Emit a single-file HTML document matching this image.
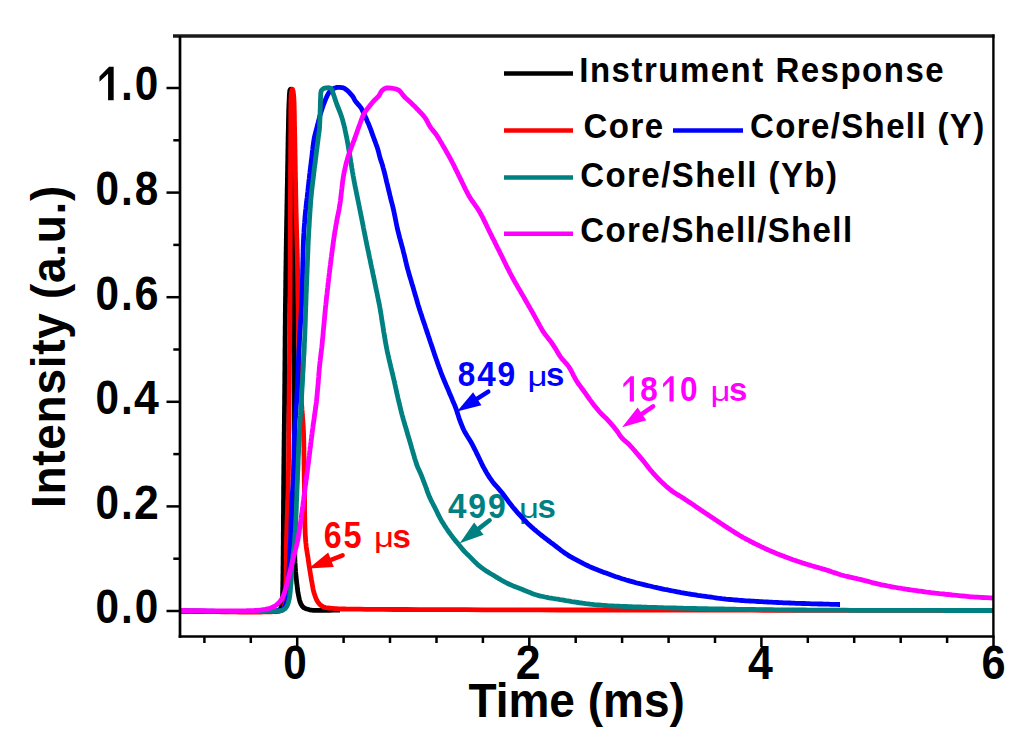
<!DOCTYPE html>
<html><head><meta charset="utf-8"><style>
html,body{margin:0;padding:0;background:#fff;width:1024px;height:754px;overflow:hidden;font-family:"Liberation Sans",sans-serif;}
svg{display:block}
</style></head><body>
<svg width="1024" height="754" viewBox="0 0 1024 754" font-family="'Liberation Sans', sans-serif">
<rect width="1024" height="754" fill="#fff"/>
<text x="0" y="0" text-anchor="middle" font-size="35" font-weight="bold" fill="#f00" transform="translate(332.73,547.60) scale(0.92,1.06)">6</text><text x="0" y="0" text-anchor="middle" font-size="35" font-weight="bold" fill="#f00" transform="translate(352.59,547.60) scale(0.93,1.06)">5</text><text x="0" y="0" fill="#f00" font-size="31" transform="translate(374.0,547.3000000000001) scale(1.12,0.9)">&#956;</text><text x="410.9" y="547.6" fill="#f00" font-size="33" font-weight="bold" text-anchor="end">s</text><text x="0" y="0" text-anchor="middle" font-size="35" font-weight="bold" fill="#008080" transform="translate(457.23,518.30) scale(0.95,1.0)">4</text><text x="0" y="0" text-anchor="middle" font-size="35" font-weight="bold" fill="#008080" transform="translate(477.09,518.30) scale(0.91,1.0)">9</text><text x="0" y="0" text-anchor="middle" font-size="35" font-weight="bold" fill="#008080" transform="translate(496.95,518.30) scale(0.91,1.0)">9</text><text x="0" y="0" fill="#008080" font-size="31" transform="translate(518.9,518.0) scale(1.12,0.9)">&#956;</text><text x="555.8" y="518.3" fill="#008080" font-size="33" font-weight="bold" text-anchor="end">s</text><text x="0" y="0" text-anchor="middle" font-size="35" font-weight="bold" fill="#00f" transform="translate(466.53,386.20) scale(0.9,1.0)">8</text><text x="0" y="0" text-anchor="middle" font-size="35" font-weight="bold" fill="#00f" transform="translate(486.39,386.20) scale(0.95,1.0)">4</text><text x="0" y="0" text-anchor="middle" font-size="35" font-weight="bold" fill="#00f" transform="translate(506.25,386.20) scale(0.91,1.0)">9</text><text x="0" y="0" fill="#00f" font-size="31" transform="translate(527.5,385.9) scale(1.12,0.9)">&#956;</text><text x="564.4" y="386.2" fill="#00f" font-size="33" font-weight="bold" text-anchor="end">s</text><polygon points="633.92,401.40 633.92,376.34 630.53,376.34 623.36,383.72 623.36,387.57 629.76,381.62 629.76,401.40" fill="#f0f"/><text x="0" y="0" text-anchor="middle" font-size="35" font-weight="bold" fill="#f0f" transform="translate(648.99,401.40) scale(0.9,1.02)">8</text><polygon points="673.64,401.40 673.64,376.34 670.25,376.34 663.08,383.72 663.08,387.57 669.48,381.62 669.48,401.40" fill="#f0f"/><text x="0" y="0" text-anchor="middle" font-size="35" font-weight="bold" fill="#f0f" transform="translate(688.71,401.40) scale(0.9,1.02)">0</text><text x="0" y="0" fill="#f0f" font-size="31" transform="translate(710.5,401.09999999999997) scale(1.12,0.9)">&#956;</text><text x="747.4" y="401.4" fill="#f0f" font-size="33" font-weight="bold" text-anchor="end">s</text>
<path d="M180.0,611.0 L180.6,611.0 L181.4,611.0 L182.5,611.0 L183.8,611.0 L185.4,611.1 L187.1,611.1 L189.1,611.1 L191.2,611.1 L193.5,611.2 L196.0,611.2 L198.6,611.2 L201.4,611.3 L204.2,611.3 L207.2,611.3 L210.2,611.4 L213.4,611.4 L216.5,611.4 L219.8,611.5 L223.1,611.5 L226.3,611.5 L229.6,611.6 L232.9,611.6 L236.2,611.6 L239.5,611.6 L242.7,611.6 L245.8,611.6 L248.9,611.6 L251.9,611.6 L254.7,611.6 L257.5,611.6 L260.1,611.6 L262.6,611.6 L265.0,611.5 L267.2,611.5 L269.2,611.4 L271.0,611.3 L272.6,611.3 L274.0,611.2 L275.1,611.1 L276.0,611.0 L278.2,610.7 L279.5,610.0 L280.7,608.3 L281.5,606.0 L281.9,604.1 L282.1,602.0 L282.3,599.7 L282.4,597.0 L282.5,595.4 L282.6,593.8 L282.6,592.1 L282.7,590.3 L282.7,588.4 L282.8,586.4 L282.8,584.3 L282.8,582.2 L282.9,579.9 L282.9,577.6 L282.9,575.2 L283.0,572.6 L283.0,570.0 L283.0,568.4 L283.0,566.7 L283.1,564.9 L283.1,563.1 L283.1,561.2 L283.1,559.3 L283.1,557.3 L283.2,555.3 L283.2,553.2 L283.2,551.1 L283.2,548.9 L283.2,546.7 L283.3,544.5 L283.3,542.2 L283.3,539.9 L283.3,537.5 L283.3,535.2 L283.3,532.8 L283.4,530.4 L283.4,528.0 L283.4,525.5 L283.4,523.1 L283.4,520.6 L283.4,518.1 L283.4,515.7 L283.5,513.2 L283.5,510.7 L283.5,508.3 L283.5,505.8 L283.5,503.4 L283.5,500.9 L283.6,498.5 L283.6,496.1 L283.6,493.7 L283.6,491.4 L283.6,489.0 L283.6,486.7 L283.7,484.4 L283.7,482.2 L283.7,480.0 L283.7,477.9 L283.7,475.9 L283.8,473.9 L283.8,471.8 L283.8,469.8 L283.8,467.8 L283.8,465.8 L283.9,463.8 L283.9,461.9 L283.9,459.9 L283.9,457.9 L284.0,455.9 L284.0,454.0 L284.0,452.0 L284.0,450.0 L284.0,448.1 L284.1,446.1 L284.1,444.2 L284.1,442.2 L284.1,440.3 L284.2,438.3 L284.2,436.3 L284.2,434.4 L284.2,432.4 L284.3,430.4 L284.3,428.5 L284.3,426.5 L284.3,424.5 L284.4,422.5 L284.4,420.5 L284.4,418.5 L284.4,416.5 L284.4,414.5 L284.5,412.4 L284.5,410.4 L284.5,408.3 L284.5,406.3 L284.6,404.2 L284.6,402.1 L284.6,400.0 L284.6,397.6 L284.6,395.2 L284.7,392.8 L284.7,390.4 L284.7,387.9 L284.7,385.4 L284.8,382.9 L284.8,380.4 L284.8,377.9 L284.8,375.4 L284.8,372.8 L284.9,370.3 L284.9,367.7 L284.9,365.1 L284.9,362.5 L285.0,359.9 L285.0,357.4 L285.0,354.8 L285.0,352.2 L285.0,349.6 L285.1,347.0 L285.1,344.4 L285.1,341.8 L285.1,339.3 L285.1,336.7 L285.2,334.1 L285.2,331.6 L285.2,329.0 L285.2,326.5 L285.3,324.0 L285.3,321.5 L285.3,319.0 L285.3,316.6 L285.3,314.1 L285.4,311.7 L285.4,309.3 L285.4,307.0 L285.4,304.6 L285.5,302.3 L285.5,300.0 L285.5,297.8 L285.6,295.7 L285.6,293.5 L285.6,291.4 L285.6,289.3 L285.7,287.2 L285.7,285.1 L285.7,283.0 L285.7,280.9 L285.8,278.8 L285.8,276.8 L285.8,274.8 L285.8,272.7 L285.9,270.7 L285.9,268.7 L285.9,266.7 L286.0,264.7 L286.0,262.7 L286.0,260.7 L286.1,258.8 L286.1,256.8 L286.1,254.8 L286.1,252.9 L286.2,251.0 L286.2,249.0 L286.2,247.1 L286.3,245.2 L286.3,243.3 L286.3,241.4 L286.3,239.4 L286.4,237.5 L286.4,235.7 L286.4,233.8 L286.5,231.9 L286.5,230.0 L286.5,227.8 L286.6,225.7 L286.6,223.6 L286.6,221.4 L286.7,219.3 L286.7,217.2 L286.8,215.1 L286.8,213.0 L286.8,211.0 L286.9,208.9 L286.9,206.8 L286.9,204.8 L287.0,202.8 L287.0,200.7 L287.1,198.7 L287.1,196.7 L287.1,194.7 L287.2,192.7 L287.2,190.7 L287.2,188.7 L287.3,186.7 L287.3,184.8 L287.4,182.8 L287.4,180.8 L287.4,178.9 L287.5,176.9 L287.5,175.0 L287.5,172.9 L287.6,170.7 L287.6,168.6 L287.6,166.4 L287.7,164.3 L287.7,162.2 L287.8,160.0 L287.8,157.9 L287.8,155.8 L287.9,153.7 L287.9,151.6 L287.9,149.6 L288.0,147.5 L288.0,145.5 L288.0,143.5 L288.1,141.5 L288.1,139.5 L288.1,137.6 L288.2,135.6 L288.2,133.7 L288.3,131.9 L288.3,130.0 L288.4,127.8 L288.4,125.6 L288.4,123.4 L288.5,121.2 L288.5,119.0 L288.6,116.8 L288.6,114.7 L288.7,112.6 L288.7,110.6 L288.8,108.6 L288.9,106.7 L288.9,104.9 L289.0,103.2 L289.1,101.5 L289.2,100.0 L289.3,97.3 L289.4,94.7 L289.6,92.4 L289.8,90.6 L290.3,89.5 L290.9,89.2 L291.5,89.3 L292.1,90.6 L292.4,93.0 L292.6,96.0 L292.7,97.3 L292.8,98.6 L292.9,100.1 L292.9,101.6 L293.0,103.3 L293.0,105.0 L293.1,106.8 L293.1,108.7 L293.1,110.7 L293.2,112.8 L293.2,115.0 L293.2,117.3 L293.2,119.7 L293.2,122.1 L293.2,124.6 L293.3,127.3 L293.3,130.0 L293.3,132.7 L293.4,135.6 L293.4,138.6 L293.4,141.7 L293.4,145.0 L293.5,148.4 L293.5,152.0 L293.5,155.6 L293.5,159.4 L293.6,163.3 L293.6,167.2 L293.6,171.3 L293.6,175.5 L293.6,179.7 L293.7,184.0 L293.7,188.4 L293.7,192.9 L293.7,197.4 L293.7,202.0 L293.7,206.6 L293.8,211.2 L293.8,215.9 L293.8,220.7 L293.8,225.4 L293.8,230.2 L293.8,235.0 L293.8,239.8 L293.8,244.6 L293.9,249.3 L293.9,254.1 L293.9,258.9 L293.9,263.6 L293.9,268.3 L293.9,273.0 L293.9,277.6 L293.9,282.2 L294.0,286.8 L294.0,291.2 L294.0,295.7 L294.0,300.0 L294.0,304.5 L294.0,309.0 L294.0,313.5 L294.1,318.1 L294.1,322.7 L294.1,327.4 L294.1,332.1 L294.1,336.8 L294.1,341.6 L294.1,346.3 L294.2,351.1 L294.2,355.9 L294.2,360.7 L294.2,365.5 L294.2,370.3 L294.2,375.1 L294.2,379.9 L294.2,384.7 L294.2,389.4 L294.3,394.2 L294.3,398.9 L294.3,403.6 L294.3,408.3 L294.3,412.9 L294.3,417.6 L294.3,422.1 L294.3,426.7 L294.3,431.1 L294.4,435.6 L294.4,439.9 L294.4,444.3 L294.4,448.5 L294.4,452.7 L294.4,456.9 L294.4,460.9 L294.4,464.9 L294.5,468.8 L294.5,472.6 L294.5,476.4 L294.5,480.0 L294.5,482.5 L294.5,484.9 L294.5,487.3 L294.5,489.8 L294.5,492.2 L294.5,494.6 L294.5,497.0 L294.5,499.4 L294.5,501.7 L294.5,504.1 L294.5,506.4 L294.5,508.7 L294.5,511.0 L294.5,513.3 L294.5,515.5 L294.5,517.7 L294.5,519.9 L294.5,522.1 L294.5,524.2 L294.5,526.3 L294.5,528.4 L294.5,530.5 L294.5,532.5 L294.5,534.5 L294.5,536.5 L294.5,538.4 L294.5,540.3 L294.5,542.2 L294.6,544.0 L294.6,545.8 L294.6,547.5 L294.6,549.2 L294.6,550.9 L294.7,552.5 L294.7,554.1 L294.8,555.6 L294.8,557.1 L294.8,558.5 L294.9,559.9 L295.0,562.7 L295.2,565.3 L295.3,567.6 L295.5,569.8 L295.6,571.9 L295.8,573.9 L296.0,575.8 L296.2,577.8 L296.4,579.8 L296.6,582.1 L296.9,584.3 L297.2,586.5 L297.4,588.7 L297.7,590.8 L298.0,592.8 L298.4,594.7 L298.9,597.2 L299.4,599.6 L300.0,601.8 L300.8,603.7 L302.1,606.0 L303.8,607.7 L305.7,608.7 L307.8,609.3 L309.6,609.8 L312.0,610.2 L313.3,610.3 L315.1,610.4 L317.2,610.4 L319.5,610.4 L322.0,610.4 L324.7,610.3 L327.3,610.3 L329.9,610.3 L332.4,610.2 L334.6,610.1 L336.6,610.1 L338.2,610.0 L339.4,610.0 L340.0,610.0" fill="none" stroke="#000" stroke-width="4.8" stroke-linejoin="round" stroke-linecap="butt"/><path d="M180.0,611.0 L180.6,611.0 L181.5,611.0 L182.6,611.0 L184.0,611.1 L185.6,611.1 L187.5,611.1 L189.5,611.2 L191.8,611.2 L194.2,611.3 L196.8,611.3 L199.5,611.4 L202.4,611.4 L205.4,611.5 L208.5,611.6 L211.7,611.6 L215.0,611.7 L218.3,611.7 L221.7,611.8 L225.2,611.8 L228.6,611.9 L232.1,611.9 L235.5,611.9 L238.9,612.0 L242.3,612.0 L245.7,612.0 L248.9,612.0 L252.1,612.0 L255.2,612.0 L258.2,612.0 L261.1,612.0 L263.8,611.9 L266.4,611.9 L268.9,611.8 L271.1,611.8 L273.1,611.7 L275.0,611.6 L276.6,611.4 L278.0,611.3 L279.1,611.2 L280.0,611.0 L281.9,610.4 L283.0,609.5 L284.1,607.2 L284.8,604.0 L285.1,602.4 L285.2,600.7 L285.4,598.9 L285.5,597.0 L285.5,594.8 L285.6,592.5 L285.7,590.0 L285.8,588.6 L285.8,587.1 L285.8,585.4 L285.9,583.8 L285.9,582.0 L286.0,580.2 L286.0,578.3 L286.0,576.4 L286.0,574.4 L286.1,572.3 L286.1,570.3 L286.1,568.1 L286.1,566.0 L286.2,563.8 L286.2,561.6 L286.2,559.5 L286.2,557.2 L286.3,555.0 L286.3,552.8 L286.3,550.6 L286.3,548.5 L286.4,546.3 L286.4,544.2 L286.5,542.1 L286.5,540.0 L286.5,538.0 L286.6,536.0 L286.7,534.1 L286.7,532.1 L286.8,530.1 L286.8,528.2 L286.9,526.2 L287.0,524.3 L287.0,522.3 L287.1,520.3 L287.2,518.4 L287.2,516.4 L287.3,514.4 L287.4,512.4 L287.5,510.4 L287.5,508.4 L287.6,506.4 L287.7,504.3 L287.7,502.3 L287.8,500.2 L287.9,498.1 L287.9,496.0 L288.0,493.8 L288.0,491.6 L288.1,489.5 L288.2,487.2 L288.2,485.0 L288.2,483.1 L288.3,481.2 L288.3,479.2 L288.3,477.3 L288.4,475.3 L288.4,473.3 L288.4,471.3 L288.5,469.3 L288.5,467.3 L288.5,465.2 L288.5,463.1 L288.6,461.1 L288.6,459.0 L288.6,456.9 L288.6,454.8 L288.7,452.7 L288.7,450.5 L288.7,448.4 L288.7,446.2 L288.7,444.1 L288.8,441.9 L288.8,439.7 L288.8,437.6 L288.8,435.4 L288.8,433.2 L288.8,431.0 L288.9,428.8 L288.9,426.6 L288.9,424.4 L288.9,422.2 L288.9,420.0 L288.9,417.7 L289.0,415.5 L289.0,413.3 L289.0,411.1 L289.0,408.9 L289.0,406.6 L289.1,404.4 L289.1,402.2 L289.1,400.0 L289.1,397.6 L289.1,395.2 L289.2,392.8 L289.2,390.3 L289.2,387.9 L289.2,385.4 L289.3,383.0 L289.3,380.5 L289.3,378.0 L289.3,375.6 L289.4,373.1 L289.4,370.6 L289.4,368.1 L289.4,365.6 L289.5,363.1 L289.5,360.6 L289.5,358.1 L289.5,355.6 L289.6,353.0 L289.6,350.5 L289.6,348.0 L289.6,345.5 L289.7,342.9 L289.7,340.4 L289.7,337.9 L289.7,335.3 L289.7,332.8 L289.8,330.3 L289.8,327.7 L289.8,325.2 L289.8,322.7 L289.9,320.1 L289.9,317.6 L289.9,315.1 L289.9,312.6 L289.9,310.0 L289.9,307.5 L290.0,305.0 L290.0,302.5 L290.0,300.0 L290.0,297.5 L290.0,295.0 L290.0,292.5 L290.1,289.9 L290.1,287.4 L290.1,284.8 L290.1,282.3 L290.1,279.7 L290.1,277.2 L290.1,274.6 L290.1,272.0 L290.2,269.4 L290.2,266.9 L290.2,264.3 L290.2,261.7 L290.2,259.1 L290.2,256.6 L290.2,254.0 L290.2,251.4 L290.2,248.9 L290.2,246.3 L290.2,243.8 L290.2,241.3 L290.3,238.7 L290.3,236.2 L290.3,233.7 L290.3,231.2 L290.3,228.7 L290.3,226.2 L290.3,223.7 L290.3,221.3 L290.3,218.9 L290.3,216.4 L290.3,214.0 L290.3,211.6 L290.4,209.3 L290.4,206.9 L290.4,204.6 L290.4,202.3 L290.4,200.0 L290.4,197.8 L290.4,195.7 L290.4,193.5 L290.4,191.3 L290.4,189.2 L290.5,187.0 L290.5,184.9 L290.5,182.7 L290.5,180.6 L290.5,178.5 L290.5,176.4 L290.5,174.3 L290.5,172.2 L290.5,170.1 L290.5,168.0 L290.5,166.0 L290.6,163.9 L290.6,161.9 L290.6,159.9 L290.6,157.9 L290.6,155.9 L290.6,153.9 L290.6,151.9 L290.6,150.0 L290.6,148.1 L290.7,146.2 L290.7,144.3 L290.7,142.4 L290.7,140.6 L290.7,138.8 L290.7,137.0 L290.7,135.2 L290.8,133.4 L290.8,131.7 L290.8,130.0 L290.8,127.7 L290.8,125.3 L290.8,122.9 L290.8,120.5 L290.8,118.1 L290.8,115.7 L290.8,113.3 L290.8,110.9 L290.8,108.7 L290.9,106.4 L290.9,104.3 L290.9,102.3 L290.9,100.4 L291.0,98.6 L291.1,96.9 L291.1,95.4 L291.2,94.1 L291.4,93.0 L291.5,92.0 L292.0,90.0 L292.5,89.2 L293.1,91.1 L293.6,95.0 L293.7,96.3 L293.8,97.7 L293.9,99.3 L294.0,101.1 L294.1,103.0 L294.1,105.0 L294.2,107.1 L294.2,109.3 L294.3,111.5 L294.3,113.8 L294.4,116.1 L294.4,118.5 L294.4,120.8 L294.5,123.2 L294.5,125.5 L294.6,127.8 L294.6,130.0 L294.6,131.9 L294.7,133.9 L294.7,135.8 L294.8,137.8 L294.8,139.8 L294.8,141.9 L294.9,143.9 L294.9,145.9 L294.9,148.0 L295.0,150.1 L295.0,152.1 L295.0,154.2 L295.1,156.3 L295.1,158.4 L295.2,160.5 L295.2,162.6 L295.2,164.7 L295.3,166.7 L295.3,168.8 L295.3,170.9 L295.4,172.9 L295.4,175.0 L295.4,177.0 L295.5,179.1 L295.5,181.2 L295.6,183.2 L295.6,185.3 L295.6,187.3 L295.7,189.4 L295.7,191.5 L295.7,193.5 L295.8,195.6 L295.8,197.7 L295.9,199.7 L295.9,201.8 L295.9,203.8 L296.0,205.9 L296.0,207.9 L296.1,210.0 L296.1,212.0 L296.2,214.0 L296.2,216.0 L296.3,218.0 L296.3,220.0 L296.4,222.1 L296.4,224.1 L296.5,226.1 L296.5,228.2 L296.6,230.2 L296.6,232.2 L296.7,234.2 L296.7,236.2 L296.8,238.2 L296.9,240.1 L296.9,242.1 L297.0,244.1 L297.0,246.1 L297.1,248.1 L297.2,250.1 L297.2,252.0 L297.3,254.0 L297.3,256.0 L297.4,258.0 L297.4,260.0 L297.4,262.0 L297.5,263.9 L297.5,265.9 L297.5,267.8 L297.6,269.7 L297.6,271.6 L297.6,273.6 L297.7,275.5 L297.7,277.4 L297.7,279.3 L297.7,281.2 L297.8,283.2 L297.8,285.2 L297.8,287.2 L297.8,289.2 L297.9,291.3 L297.9,293.4 L297.9,295.5 L298.0,297.7 L298.0,300.0 L298.0,301.7 L298.1,303.5 L298.1,305.4 L298.1,307.2 L298.2,309.1 L298.2,311.1 L298.2,313.1 L298.2,315.1 L298.3,317.1 L298.3,319.2 L298.3,321.2 L298.4,323.3 L298.4,325.4 L298.4,327.5 L298.5,329.7 L298.5,331.8 L298.6,333.9 L298.6,336.1 L298.6,338.2 L298.7,340.3 L298.7,342.5 L298.8,344.6 L298.8,346.7 L298.8,348.8 L298.9,350.9 L298.9,352.9 L299.0,354.9 L299.1,356.9 L299.1,358.9 L299.2,360.9 L299.2,362.8 L299.3,364.6 L299.4,366.5 L299.4,368.3 L299.5,370.0 L299.6,372.3 L299.7,374.5 L299.8,376.7 L299.9,378.9 L300.1,381.1 L300.2,383.3 L300.3,385.4 L300.4,387.5 L300.6,389.5 L300.7,391.6 L300.9,393.6 L301.0,395.5 L301.1,397.5 L301.3,399.4 L301.4,401.2 L301.5,403.1 L301.6,404.9 L301.8,406.6 L301.9,408.3 L302.0,410.0 L302.2,412.2 L302.3,414.3 L302.5,416.2 L302.6,418.1 L302.8,419.9 L302.9,421.7 L303.0,423.6 L303.2,425.5 L303.3,427.7 L303.4,430.0 L303.5,431.6 L303.5,433.2 L303.6,434.9 L303.6,436.7 L303.7,438.5 L303.7,440.3 L303.8,442.2 L303.8,444.2 L303.8,446.1 L303.9,448.2 L303.9,450.2 L303.9,452.3 L303.9,454.4 L304.0,456.5 L304.0,458.6 L304.0,460.7 L304.0,462.9 L304.1,465.0 L304.1,467.2 L304.1,469.3 L304.2,471.5 L304.2,473.6 L304.2,475.8 L304.3,477.9 L304.3,480.0 L304.3,481.9 L304.4,483.9 L304.4,485.9 L304.4,488.0 L304.4,490.1 L304.5,492.2 L304.5,494.3 L304.5,496.5 L304.5,498.6 L304.6,500.8 L304.6,503.0 L304.6,505.2 L304.6,507.3 L304.6,509.5 L304.7,511.7 L304.7,513.8 L304.7,516.0 L304.8,518.1 L304.8,520.1 L304.8,522.2 L304.9,524.2 L304.9,526.2 L305.0,528.1 L305.1,530.0 L305.1,531.8 L305.2,533.6 L305.3,535.3 L305.4,536.9 L305.5,538.5 L305.6,540.0 L305.8,542.5 L306.1,544.8 L306.3,547.0 L306.6,549.1 L306.9,551.1 L307.2,553.0 L307.5,554.8 L307.8,556.6 L308.1,558.3 L308.3,560.0 L308.6,562.2 L308.9,564.3 L309.2,566.2 L309.5,568.1 L309.8,570.0 L310.2,572.4 L310.6,574.8 L311.0,577.2 L311.4,579.7 L311.8,581.8 L312.2,584.1 L312.6,586.4 L313.0,588.7 L313.5,590.9 L314.1,593.0 L314.9,595.5 L315.8,598.0 L316.8,600.2 L318.0,602.2 L319.5,604.1 L321.3,605.7 L323.4,606.9 L325.3,607.6 L327.4,608.0 L329.8,608.2 L332.3,608.4 L335.0,608.6 L336.6,608.7 L338.2,608.8 L339.8,608.9 L341.4,609.0 L343.0,609.0 L344.8,609.0 L346.7,609.1 L348.8,609.1 L351.2,609.1 L353.8,609.1 L356.7,609.2 L360.0,609.2 L366.1,609.3 L373.8,609.3 L383.0,609.4 L393.7,609.5 L405.7,609.5 L419.0,609.6 L433.5,609.6 L449.0,609.7 L465.6,609.7 L483.0,609.8 L501.3,609.8 L520.3,609.9 L540.0,609.9 L560.2,610.0 L580.9,610.0 L602.0,610.0 L623.4,610.1 L644.9,610.1 L666.6,610.1 L688.3,610.2 L710.0,610.2 L731.5,610.2 L752.8,610.2 L773.8,610.3 L794.3,610.3 L814.3,610.3 L833.8,610.3 L852.6,610.4 L870.6,610.4 L887.7,610.4 L904.0,610.4 L919.2,610.4 L933.2,610.4 L946.1,610.4 L957.7,610.5 L967.8,610.5 L976.6,610.5 L983.7,610.5 L989.2,610.5 L993.0,610.5" fill="none" stroke="#f00" stroke-width="4.8" stroke-linejoin="round" stroke-linecap="butt"/><path d="M180.0,611.0 L180.6,611.0 L181.4,611.0 L182.5,611.0 L183.8,611.0 L185.3,611.0 L187.0,611.0 L189.0,611.1 L191.1,611.1 L193.4,611.1 L195.8,611.1 L198.4,611.1 L201.1,611.2 L203.9,611.2 L206.8,611.2 L209.8,611.2 L212.9,611.2 L216.0,611.3 L219.2,611.3 L222.5,611.3 L225.7,611.3 L229.0,611.3 L232.3,611.3 L235.5,611.3 L238.8,611.4 L241.9,611.4 L245.1,611.4 L248.1,611.4 L251.1,611.4 L254.0,611.4 L256.8,611.3 L259.5,611.3 L262.0,611.3 L264.4,611.3 L266.6,611.3 L268.7,611.2 L270.6,611.2 L272.3,611.2 L273.7,611.1 L275.0,611.1 L276.0,611.0 L279.0,610.8 L281.0,610.3 L282.9,609.2 L284.5,607.5 L285.5,605.7 L286.2,603.5 L286.8,601.0 L287.1,599.4 L287.3,597.6 L287.5,595.7 L287.7,593.7 L287.8,591.6 L287.9,589.4 L288.1,587.2 L288.2,585.0 L288.3,583.1 L288.4,581.1 L288.6,579.1 L288.7,577.0 L288.8,574.8 L288.9,572.7 L289.0,570.5 L289.1,568.3 L289.2,566.2 L289.3,564.1 L289.4,562.0 L289.5,560.0 L289.6,557.9 L289.7,556.0 L289.8,554.1 L289.9,552.2 L290.0,550.3 L290.1,548.4 L290.2,546.4 L290.3,544.4 L290.4,542.3 L290.5,540.0 L290.6,538.3 L290.6,536.5 L290.7,534.6 L290.8,532.6 L290.8,530.5 L290.9,528.4 L290.9,526.2 L291.0,524.1 L291.0,521.9 L291.1,519.7 L291.2,517.5 L291.2,515.3 L291.3,513.1 L291.4,511.0 L291.4,509.0 L291.5,507.0 L291.6,505.1 L291.6,503.3 L291.7,501.6 L291.8,500.0 L292.0,497.6 L292.1,495.5 L292.3,493.6 L292.5,491.7 L292.7,489.8 L292.8,487.6 L293.0,485.0 L293.1,483.5 L293.1,482.0 L293.2,480.3 L293.3,478.6 L293.3,476.7 L293.4,474.8 L293.5,472.8 L293.5,470.7 L293.6,468.6 L293.6,466.5 L293.7,464.2 L293.7,462.0 L293.8,459.8 L293.9,457.5 L293.9,455.2 L294.0,452.9 L294.0,450.6 L294.1,448.4 L294.1,446.1 L294.2,443.9 L294.3,441.8 L294.3,439.6 L294.4,437.6 L294.5,435.6 L294.5,433.6 L294.6,431.8 L294.7,430.0 L294.8,427.8 L294.9,425.6 L295.1,423.5 L295.2,421.5 L295.3,419.6 L295.5,417.7 L295.6,415.8 L295.7,414.0 L295.9,412.1 L296.0,410.2 L296.2,408.3 L296.3,406.3 L296.4,404.3 L296.6,402.2 L296.7,400.0 L296.8,398.2 L296.9,396.4 L297.0,394.6 L297.1,392.7 L297.2,390.8 L297.3,388.9 L297.4,386.9 L297.4,384.9 L297.5,382.9 L297.6,380.9 L297.7,378.9 L297.8,376.8 L297.9,374.8 L298.0,372.7 L298.1,370.6 L298.1,368.5 L298.2,366.4 L298.3,364.4 L298.4,362.3 L298.5,360.2 L298.6,358.1 L298.7,356.1 L298.8,354.0 L298.9,352.0 L299.0,350.0 L299.1,348.0 L299.2,346.0 L299.3,344.0 L299.4,342.0 L299.5,340.1 L299.7,338.1 L299.8,336.1 L299.9,334.2 L300.0,332.2 L300.1,330.2 L300.3,328.2 L300.4,326.3 L300.5,324.3 L300.6,322.3 L300.7,320.3 L300.9,318.3 L301.0,316.3 L301.1,314.3 L301.2,312.3 L301.3,310.3 L301.4,308.3 L301.5,306.2 L301.6,304.2 L301.7,302.1 L301.8,300.0 L301.9,298.1 L302.0,296.1 L302.0,294.1 L302.1,292.1 L302.2,290.0 L302.2,287.9 L302.3,285.8 L302.3,283.7 L302.4,281.6 L302.4,279.4 L302.5,277.3 L302.5,275.2 L302.6,273.0 L302.6,270.9 L302.7,268.7 L302.7,266.6 L302.8,264.5 L302.8,262.4 L302.9,260.3 L302.9,258.3 L303.0,256.3 L303.0,254.3 L303.1,252.3 L303.1,250.4 L303.2,248.6 L303.2,246.7 L303.3,245.0 L303.4,243.3 L303.4,241.6 L303.5,240.0 L303.6,237.5 L303.7,235.2 L303.9,232.9 L304.0,230.7 L304.1,228.6 L304.3,226.6 L304.4,224.6 L304.6,222.7 L304.7,220.8 L304.9,218.8 L305.0,216.9 L305.2,215.0 L305.4,212.8 L305.6,210.6 L305.9,208.5 L306.1,206.4 L306.3,204.3 L306.6,202.2 L306.8,200.2 L307.1,198.1 L307.3,196.0 L307.5,193.9 L307.8,191.8 L308.0,189.7 L308.2,187.6 L308.5,185.4 L308.7,183.3 L308.9,181.2 L309.2,179.1 L309.4,177.0 L309.6,174.9 L309.9,172.8 L310.1,170.7 L310.4,168.6 L310.7,166.4 L310.9,164.3 L311.2,162.2 L311.4,160.1 L311.7,158.0 L312.0,155.9 L312.2,153.7 L312.4,151.5 L312.7,149.3 L312.9,147.1 L313.2,145.0 L313.5,142.9 L313.8,140.9 L314.1,139.0 L314.5,136.8 L315.0,134.8 L315.5,132.8 L316.0,130.9 L316.5,129.0 L317.0,127.0 L317.5,124.9 L318.1,122.8 L318.6,120.7 L319.2,118.6 L319.7,116.5 L320.3,114.5 L320.9,112.4 L321.6,110.3 L322.3,108.3 L322.9,106.3 L323.6,104.5 L324.5,102.2 L325.3,100.0 L326.2,97.9 L327.5,95.1 L328.9,92.6 L330.1,91.2 L331.5,90.0 L333.1,88.9 L334.9,88.0 L337.1,87.4 L339.5,87.3 L342.1,87.6 L344.8,88.6 L346.3,89.7 L348.0,91.1 L349.6,92.7 L351.0,94.4 L352.3,95.9 L353.5,97.7 L354.4,99.4 L355.5,101.2 L356.7,102.7 L358.1,104.3 L359.5,105.9 L360.8,107.6 L362.0,109.6 L363.0,111.7 L364.0,113.9 L365.0,116.1 L365.9,117.9 L366.7,119.8 L367.5,121.7 L368.4,123.6 L369.2,125.6 L369.9,127.5 L370.7,129.4 L371.4,131.4 L372.1,133.4 L372.8,135.3 L373.5,137.3 L374.2,139.3 L375.0,141.2 L375.7,143.2 L376.4,145.2 L377.1,147.1 L377.7,148.9 L378.3,151.0 L378.8,153.0 L379.3,155.0 L379.8,157.0 L380.5,159.2 L381.2,161.4 L382.0,163.7 L382.8,166.5 L383.2,168.1 L383.7,169.8 L384.2,171.6 L384.7,173.6 L385.2,175.6 L385.7,177.8 L386.2,179.9 L386.7,182.1 L387.3,184.3 L387.8,186.5 L388.3,188.6 L388.8,190.6 L389.3,192.6 L389.7,194.4 L390.2,196.5 L390.7,198.6 L391.2,200.6 L391.7,202.5 L392.2,204.4 L392.7,206.3 L393.1,208.2 L393.6,210.1 L394.0,212.0 L394.4,214.0 L394.8,215.9 L395.2,217.9 L395.6,219.9 L396.0,221.9 L396.4,223.9 L396.8,225.9 L397.2,227.9 L397.7,229.9 L398.2,231.9 L398.7,233.9 L399.2,235.9 L399.7,237.9 L400.3,239.9 L400.8,241.9 L401.4,244.0 L401.9,246.0 L402.5,248.0 L403.0,250.0 L403.5,252.1 L404.1,254.3 L404.6,256.4 L405.1,258.5 L405.6,260.6 L406.1,262.8 L406.6,264.9 L407.1,267.0 L407.7,269.1 L408.3,271.2 L408.9,273.4 L409.5,275.5 L410.1,277.6 L410.8,279.7 L411.4,281.8 L412.0,284.0 L412.7,286.1 L413.3,288.2 L413.9,290.3 L414.5,292.4 L415.1,294.6 L415.8,296.7 L416.4,298.8 L417.0,300.9 L417.6,303.1 L418.2,305.2 L418.9,307.3 L419.5,309.2 L420.1,311.1 L420.7,313.0 L421.4,314.9 L422.0,316.9 L422.6,318.8 L423.3,320.7 L423.9,322.6 L424.6,324.5 L425.2,326.4 L425.8,328.3 L426.5,330.2 L427.1,332.2 L427.8,334.1 L428.4,336.0 L429.1,338.0 L429.7,339.9 L430.3,341.8 L431.0,343.6 L431.6,345.5 L432.3,347.6 L433.0,349.7 L433.7,351.8 L434.4,353.9 L435.1,356.0 L435.8,358.0 L436.5,360.0 L437.2,362.0 L437.9,364.1 L438.7,366.2 L439.4,368.2 L440.2,370.2 L440.9,372.3 L441.7,374.3 L442.5,376.4 L443.3,378.4 L444.1,380.3 L444.9,382.3 L445.8,384.3 L446.6,386.3 L447.5,388.3 L448.4,390.3 L449.2,392.3 L450.0,394.3 L450.9,396.3 L451.8,398.4 L452.6,400.4 L453.5,402.4 L454.3,404.4 L455.1,406.3 L455.8,408.2 L456.6,410.3 L457.2,412.4 L457.9,414.4 L458.5,416.4 L459.1,418.3 L459.8,420.2 L460.6,422.3 L461.4,424.4 L462.2,426.4 L463.0,428.3 L463.8,430.0 L465.0,432.3 L466.3,434.5 L467.2,436.0 L468.3,437.7 L469.4,439.5 L470.5,441.3 L471.6,443.2 L472.5,444.9 L473.4,446.6 L474.3,448.5 L475.3,450.3 L476.2,452.2 L477.1,454.1 L478.0,455.9 L478.9,457.7 L479.8,459.6 L480.6,461.4 L481.5,463.2 L482.4,465.1 L483.3,466.9 L484.3,468.7 L485.3,470.5 L486.4,472.4 L487.5,474.2 L488.7,476.1 L489.8,477.9 L491.1,479.7 L492.3,481.4 L493.6,483.1 L494.9,484.6 L496.3,486.2 L497.7,487.7 L499.1,489.3 L500.4,490.9 L501.8,492.5 L503.2,494.3 L504.6,496.1 L505.9,498.0 L507.3,499.8 L508.6,501.7 L510.0,503.5 L511.4,505.3 L512.7,507.0 L514.1,508.6 L515.5,510.2 L516.8,511.8 L518.2,513.3 L519.6,514.9 L521.0,516.4 L522.6,518.1 L524.1,519.7 L525.7,521.3 L527.2,522.9 L528.8,524.4 L530.5,526.0 L532.0,527.4 L533.6,528.8 L535.2,530.1 L536.8,531.5 L538.4,532.8 L540.0,534.2 L541.7,535.5 L543.5,536.9 L545.3,538.3 L547.1,539.6 L548.9,541.0 L550.7,542.4 L552.6,543.7 L554.4,545.1 L556.2,546.5 L557.9,547.8 L559.6,549.2 L561.4,550.6 L563.2,551.9 L565.1,553.3 L567.1,554.6 L568.7,555.6 L570.4,556.7 L572.2,557.7 L574.0,558.7 L575.9,559.7 L577.8,560.7 L579.7,561.7 L581.6,562.7 L583.5,563.7 L585.4,564.6 L587.3,565.5 L589.1,566.4 L591.0,567.2 L592.9,568.0 L594.7,568.8 L596.6,569.5 L598.5,570.3 L600.4,571.0 L602.2,571.7 L604.1,572.4 L606.0,573.1 L607.9,573.8 L609.9,574.5 L611.9,575.3 L613.9,576.0 L615.9,576.7 L617.9,577.3 L620.0,578.0 L622.0,578.7 L624.1,579.3 L626.2,580.0 L628.4,580.6 L630.2,581.1 L632.1,581.6 L634.0,582.1 L635.9,582.7 L637.8,583.2 L639.8,583.7 L641.8,584.1 L643.8,584.6 L645.8,585.1 L647.8,585.6 L649.8,586.0 L651.8,586.5 L653.7,587.0 L655.7,587.4 L657.8,587.9 L660.0,588.3 L662.1,588.8 L664.3,589.3 L666.5,589.7 L668.7,590.2 L670.8,590.6 L673.0,591.0 L675.1,591.4 L677.1,591.8 L679.1,592.2 L681.1,592.6 L683.0,592.9 L685.3,593.3 L687.4,593.7 L689.5,594.0 L691.4,594.3 L693.4,594.6 L695.5,594.9 L697.7,595.3 L700.0,595.6 L701.8,595.9 L703.6,596.1 L705.5,596.4 L707.4,596.7 L709.4,596.9 L711.4,597.2 L713.4,597.5 L715.5,597.8 L717.6,598.1 L719.7,598.3 L721.8,598.6 L723.9,598.8 L725.9,599.1 L728.0,599.3 L730.0,599.5 L732.0,599.7 L734.0,599.9 L735.9,600.0 L737.9,600.2 L739.8,600.4 L741.8,600.5 L743.7,600.6 L745.7,600.8 L747.7,600.9 L749.7,601.0 L751.7,601.1 L753.7,601.2 L755.8,601.4 L757.9,601.5 L760.0,601.6 L761.9,601.7 L763.8,601.8 L765.7,601.9 L767.6,602.0 L769.6,602.1 L771.6,602.2 L773.6,602.3 L775.6,602.4 L777.6,602.5 L779.6,602.6 L781.7,602.7 L783.7,602.8 L785.8,602.8 L787.8,602.9 L789.9,603.0 L791.9,603.1 L793.9,603.2 L796.0,603.3 L798.0,603.3 L800.0,603.4 L802.1,603.5 L804.3,603.5 L806.6,603.6 L809.0,603.7 L811.5,603.8 L814.1,603.8 L816.6,603.9 L819.1,604.0 L821.6,604.0 L824.1,604.1 L826.5,604.2 L828.7,604.2 L830.8,604.3 L832.8,604.3 L834.6,604.4 L836.2,604.4 L837.5,604.4 L838.7,604.5 L839.5,604.5 L840.0,604.5" fill="none" stroke="#00f" stroke-width="4.8" stroke-linejoin="round" stroke-linecap="butt"/><path d="M180.0,611.0 L180.6,611.0 L181.4,611.0 L182.5,611.0 L183.9,611.0 L185.4,611.0 L187.2,611.1 L189.2,611.1 L191.3,611.1 L193.6,611.1 L196.1,611.2 L198.8,611.2 L201.5,611.2 L204.4,611.3 L207.4,611.3 L210.4,611.3 L213.6,611.3 L216.8,611.4 L220.1,611.4 L223.4,611.4 L226.7,611.4 L230.1,611.5 L233.4,611.5 L236.7,611.5 L240.0,611.5 L243.3,611.5 L246.5,611.5 L249.6,611.5 L252.7,611.5 L255.6,611.5 L258.5,611.5 L261.2,611.5 L263.8,611.5 L266.2,611.4 L268.5,611.4 L270.6,611.3 L272.5,611.3 L274.2,611.2 L275.7,611.2 L277.0,611.1 L278.0,611.0 L281.0,610.7 L283.0,610.0 L284.9,608.8 L286.5,607.0 L287.5,605.0 L288.3,602.7 L289.0,600.0 L289.4,598.2 L289.7,596.3 L289.9,594.2 L290.2,592.0 L290.4,589.7 L290.6,587.4 L290.8,585.0 L291.0,583.1 L291.1,581.2 L291.3,579.1 L291.4,577.0 L291.5,574.9 L291.6,572.7 L291.8,570.5 L291.9,568.4 L292.0,566.2 L292.2,564.1 L292.3,562.0 L292.5,560.0 L292.7,558.0 L292.9,556.0 L293.1,554.1 L293.4,552.3 L293.6,550.5 L293.8,548.6 L294.1,546.7 L294.3,544.6 L294.5,542.4 L294.7,540.0 L294.8,538.4 L294.9,536.8 L295.0,535.1 L295.1,533.3 L295.3,531.5 L295.4,529.6 L295.5,527.7 L295.6,525.7 L295.6,523.7 L295.7,521.6 L295.8,519.5 L295.9,517.4 L296.0,515.3 L296.1,513.1 L296.2,510.9 L296.3,508.8 L296.4,506.6 L296.4,504.3 L296.5,502.1 L296.6,499.9 L296.7,497.7 L296.8,495.6 L296.9,493.4 L296.9,491.3 L297.0,489.1 L297.1,487.1 L297.2,485.0 L297.3,483.0 L297.4,480.9 L297.5,478.8 L297.5,476.7 L297.6,474.6 L297.7,472.5 L297.8,470.3 L297.9,468.2 L298.0,466.1 L298.1,463.9 L298.1,461.8 L298.2,459.6 L298.3,457.5 L298.4,455.4 L298.5,453.3 L298.6,451.2 L298.6,449.2 L298.7,447.1 L298.8,445.1 L298.9,443.1 L299.0,441.1 L299.1,439.2 L299.1,437.3 L299.2,435.4 L299.3,433.5 L299.4,431.8 L299.5,430.0 L299.6,427.8 L299.7,425.6 L299.9,423.6 L300.0,421.6 L300.1,419.7 L300.2,417.8 L300.4,416.0 L300.5,414.2 L300.6,412.3 L300.7,410.4 L300.9,408.5 L301.0,406.5 L301.1,404.4 L301.3,402.3 L301.4,400.0 L301.5,398.3 L301.6,396.6 L301.7,394.8 L301.8,392.9 L301.9,391.1 L302.0,389.1 L302.1,387.2 L302.3,385.2 L302.4,383.1 L302.5,381.1 L302.6,379.0 L302.7,376.9 L302.8,374.8 L302.9,372.7 L303.1,370.5 L303.2,368.4 L303.3,366.3 L303.4,364.1 L303.5,362.0 L303.6,359.9 L303.7,357.8 L303.8,355.7 L304.0,353.6 L304.1,351.6 L304.2,349.5 L304.3,347.6 L304.3,345.6 L304.4,343.7 L304.5,341.8 L304.6,340.0 L304.7,337.8 L304.8,335.7 L304.9,333.6 L304.9,331.5 L305.0,329.4 L305.1,327.4 L305.2,325.4 L305.2,323.4 L305.3,321.5 L305.4,319.5 L305.4,317.6 L305.5,315.6 L305.5,313.7 L305.6,311.7 L305.7,309.8 L305.7,307.9 L305.8,305.9 L305.9,304.0 L305.9,302.0 L306.0,300.0 L306.1,298.0 L306.1,296.0 L306.2,293.9 L306.3,291.9 L306.4,289.8 L306.4,287.7 L306.5,285.6 L306.6,283.6 L306.7,281.5 L306.8,279.4 L306.8,277.4 L306.9,275.3 L307.0,273.3 L307.1,271.3 L307.1,269.3 L307.2,267.4 L307.3,265.5 L307.4,263.6 L307.4,261.8 L307.5,260.0 L307.6,257.7 L307.7,255.5 L307.8,253.3 L307.9,251.1 L308.0,249.0 L308.0,247.0 L308.1,244.9 L308.2,242.9 L308.3,240.9 L308.4,238.9 L308.5,237.0 L308.6,235.0 L308.7,232.9 L308.8,230.8 L308.9,228.8 L309.1,226.8 L309.2,224.8 L309.3,222.9 L309.4,220.9 L309.5,218.9 L309.7,217.0 L309.8,215.0 L309.9,212.9 L310.1,210.7 L310.2,208.6 L310.4,206.5 L310.5,204.4 L310.7,202.3 L310.8,200.2 L311.0,198.1 L311.2,196.0 L311.4,193.9 L311.6,191.8 L311.8,189.8 L312.1,187.7 L312.3,185.6 L312.6,183.5 L312.8,181.5 L313.1,179.4 L313.3,177.3 L313.6,175.2 L313.8,173.1 L314.1,170.9 L314.3,168.8 L314.6,166.7 L314.9,164.6 L315.2,162.4 L315.4,160.3 L315.7,158.2 L316.0,156.0 L316.2,153.9 L316.5,151.6 L316.8,149.4 L317.1,147.2 L317.3,145.1 L317.6,143.0 L317.9,141.0 L318.1,139.1 L318.4,136.7 L318.7,134.6 L319.0,132.5 L319.3,130.3 L319.5,128.0 L319.6,126.2 L319.7,124.2 L319.8,122.2 L319.9,120.1 L320.0,118.0 L320.0,115.9 L320.1,113.9 L320.1,111.9 L320.2,110.0 L320.3,107.7 L320.3,105.3 L320.4,103.1 L320.4,100.9 L320.5,98.9 L320.6,97.0 L320.7,94.5 L320.9,92.3 L321.4,90.5 L322.5,89.2 L324.0,88.3 L326.2,87.8 L328.9,87.7 L331.0,88.3 L332.1,89.9 L332.8,92.2 L333.5,94.6 L334.2,96.4 L334.8,98.4 L335.5,100.4 L336.2,102.5 L336.9,104.5 L337.7,106.5 L338.5,108.5 L339.3,110.5 L340.1,112.5 L340.8,114.5 L341.5,116.5 L342.1,118.4 L342.7,120.3 L343.2,122.4 L343.8,124.5 L344.3,126.5 L344.8,128.5 L345.2,130.7 L345.7,132.9 L346.1,135.1 L346.6,137.2 L347.0,139.4 L347.4,141.5 L347.8,143.5 L348.1,145.5 L348.5,147.6 L348.8,149.7 L349.2,151.9 L349.6,154.2 L349.9,156.0 L350.2,157.8 L350.5,159.7 L350.8,161.7 L351.2,163.8 L351.5,165.8 L351.8,167.9 L352.2,170.0 L352.5,172.1 L352.9,174.1 L353.2,176.1 L353.6,178.1 L353.9,180.0 L354.3,182.1 L354.7,184.1 L355.1,186.2 L355.5,188.2 L355.9,190.1 L356.3,192.1 L356.7,194.0 L357.1,196.0 L357.5,197.9 L357.9,199.9 L358.3,201.9 L358.7,203.9 L359.1,205.9 L359.5,207.9 L359.9,209.9 L360.3,211.8 L360.7,213.8 L361.1,215.8 L361.5,217.8 L361.9,219.8 L362.3,221.8 L362.7,223.7 L363.1,225.7 L363.4,227.6 L363.8,229.6 L364.2,231.5 L364.6,233.5 L365.0,235.5 L365.4,237.5 L365.8,239.6 L366.2,241.5 L366.6,243.5 L367.0,245.4 L367.4,247.4 L367.8,249.4 L368.3,251.4 L368.7,253.4 L369.1,255.5 L369.5,257.5 L370.0,259.5 L370.4,261.5 L370.8,263.5 L371.2,265.5 L371.6,267.5 L372.1,269.5 L372.5,271.5 L372.9,273.6 L373.3,275.6 L373.8,277.6 L374.2,279.6 L374.6,281.6 L375.0,283.5 L375.4,285.5 L375.8,287.4 L376.2,289.5 L376.7,291.5 L377.1,293.6 L377.5,295.6 L377.9,297.6 L378.3,299.6 L378.7,301.5 L379.1,303.4 L379.5,305.3 L379.8,307.2 L380.2,309.4 L380.5,311.5 L380.9,313.5 L381.2,315.5 L381.5,317.5 L381.8,319.7 L382.2,322.0 L382.5,323.8 L382.8,325.6 L383.1,327.6 L383.4,329.6 L383.7,331.6 L384.1,333.7 L384.4,335.8 L384.8,337.9 L385.1,340.0 L385.5,342.2 L385.9,344.3 L386.3,346.5 L386.7,348.6 L387.1,350.6 L387.5,352.6 L388.0,354.7 L388.5,356.7 L388.9,358.8 L389.4,360.9 L389.9,363.0 L390.4,365.1 L390.9,367.2 L391.4,369.3 L391.9,371.4 L392.4,373.4 L392.9,375.5 L393.4,377.6 L393.9,379.7 L394.4,381.8 L394.8,383.8 L395.3,385.9 L395.7,387.9 L396.2,390.0 L396.6,392.1 L397.1,394.1 L397.6,396.2 L398.0,398.2 L398.5,400.3 L399.0,402.4 L399.5,404.4 L400.0,406.5 L400.5,408.6 L401.0,410.7 L401.5,412.7 L402.0,414.6 L402.6,416.6 L403.1,418.6 L403.7,420.7 L404.3,422.7 L404.9,424.8 L405.5,426.8 L406.1,428.8 L406.7,430.8 L407.3,432.8 L407.8,434.8 L408.4,436.7 L409.0,438.6 L409.5,440.5 L410.1,442.3 L410.6,444.1 L411.2,446.2 L411.8,448.4 L412.4,450.4 L413.0,452.5 L413.6,454.5 L414.2,456.4 L414.7,458.4 L415.3,460.2 L415.9,462.0 L416.4,463.7 L417.0,465.3 L417.9,467.7 L418.9,469.8 L419.8,471.8 L420.7,473.8 L421.6,475.9 L422.4,478.0 L423.2,480.1 L424.0,482.3 L424.8,484.4 L425.6,486.5 L426.4,488.6 L427.1,490.8 L427.9,492.9 L428.7,495.0 L429.6,497.1 L430.6,499.2 L431.6,501.4 L432.7,503.5 L433.8,505.6 L434.9,507.7 L435.9,509.8 L437.0,512.0 L438.0,514.1 L439.1,516.3 L440.2,518.4 L441.2,520.2 L442.3,522.0 L443.4,523.8 L444.5,525.6 L445.7,527.3 L446.8,529.0 L448.1,530.9 L449.4,532.8 L450.8,534.6 L452.1,536.4 L453.5,538.2 L454.8,539.9 L456.2,541.6 L457.6,543.2 L458.9,544.8 L460.1,546.2 L461.8,548.4 L463.6,550.5 L465.1,552.1 L466.9,553.9 L468.7,555.6 L470.5,557.4 L472.2,559.1 L473.9,560.9 L475.6,562.6 L477.4,564.3 L479.3,565.9 L481.2,567.4 L483.2,568.9 L485.2,570.3 L486.9,571.4 L488.6,572.4 L490.3,573.5 L492.1,574.5 L493.8,575.5 L495.5,576.6 L497.2,577.6 L498.9,578.7 L500.7,579.7 L502.4,580.7 L504.5,581.8 L506.7,583.0 L508.8,584.0 L511.0,585.0 L513.2,585.9 L515.3,586.7 L517.5,587.6 L519.7,588.4 L521.9,589.3 L524.1,590.2 L526.2,591.1 L528.3,591.9 L530.5,592.8 L532.7,593.7 L535.0,594.5 L536.8,595.0 L538.7,595.6 L540.7,596.1 L542.8,596.5 L545.0,597.0 L547.0,597.4 L549.0,597.8 L551.1,598.1 L553.3,598.5 L555.5,598.9 L557.8,599.2 L560.0,599.6 L561.9,599.9 L563.8,600.2 L565.7,600.6 L567.7,600.9 L569.6,601.2 L571.6,601.6 L573.7,601.9 L575.7,602.2 L577.8,602.5 L579.8,602.8 L581.8,603.0 L583.8,603.3 L585.9,603.6 L588.0,603.8 L590.1,604.1 L592.3,604.3 L594.4,604.6 L596.6,604.8 L598.8,605.0 L601.0,605.2 L603.0,605.4 L605.0,605.5 L606.9,605.6 L608.8,605.8 L610.8,605.9 L612.7,606.0 L614.8,606.1 L616.8,606.1 L618.9,606.2 L621.1,606.3 L623.4,606.4 L625.9,606.5 L628.4,606.6 L630.0,606.7 L631.6,606.7 L633.3,606.8 L635.0,606.8 L636.8,606.9 L638.5,607.0 L640.4,607.0 L642.2,607.1 L644.1,607.2 L646.0,607.2 L648.0,607.3 L650.0,607.3 L652.0,607.4 L654.0,607.5 L656.1,607.5 L658.2,607.6 L660.3,607.6 L662.4,607.7 L664.5,607.8 L666.7,607.8 L668.9,607.9 L671.1,607.9 L673.3,608.0 L675.5,608.0 L677.7,608.1 L679.9,608.1 L682.1,608.2 L684.4,608.3 L686.6,608.3 L688.8,608.4 L691.1,608.4 L693.3,608.5 L695.6,608.5 L697.8,608.6 L700.0,608.6 L702.3,608.6 L704.6,608.7 L706.9,608.7 L709.2,608.8 L711.5,608.8 L713.8,608.9 L716.1,608.9 L718.4,609.0 L720.7,609.0 L723.1,609.0 L725.4,609.1 L727.7,609.1 L730.1,609.2 L732.5,609.2 L734.8,609.2 L737.2,609.3 L739.6,609.3 L742.1,609.3 L744.5,609.4 L746.9,609.4 L749.4,609.5 L751.9,609.5 L754.3,609.5 L756.9,609.6 L759.4,609.6 L761.9,609.6 L764.5,609.6 L767.1,609.7 L769.7,609.7 L772.3,609.7 L775.0,609.8 L777.6,609.8 L780.3,609.8 L783.1,609.8 L785.8,609.9 L788.6,609.9 L791.4,609.9 L794.2,610.0 L797.1,610.0 L800.0,610.0 L804.2,610.0 L808.6,610.1 L813.3,610.1 L818.2,610.1 L823.3,610.1 L828.6,610.2 L834.0,610.2 L839.6,610.2 L845.4,610.2 L851.2,610.3 L857.2,610.3 L863.2,610.3 L869.3,610.3 L875.5,610.3 L881.6,610.3 L887.8,610.4 L894.0,610.4 L900.2,610.4 L906.3,610.4 L912.3,610.4 L918.3,610.4 L924.1,610.4 L929.9,610.4 L935.5,610.4 L941.0,610.4 L946.3,610.5 L951.4,610.5 L956.3,610.5 L961.0,610.5 L965.5,610.5 L969.7,610.5 L973.6,610.5 L977.2,610.5 L980.6,610.5 L983.6,610.5 L986.2,610.5 L988.5,610.5 L990.4,610.5 L991.9,610.5 L993.0,610.5" fill="none" stroke="#008080" stroke-width="4.8" stroke-linejoin="round" stroke-linecap="butt"/><path d="M180.0,610.5 L180.5,610.5 L181.2,610.5 L182.1,610.5 L183.2,610.5 L184.5,610.5 L185.9,610.6 L187.6,610.6 L189.3,610.6 L191.3,610.6 L193.3,610.6 L195.5,610.6 L197.7,610.7 L200.1,610.7 L202.5,610.7 L205.0,610.7 L207.6,610.8 L210.2,610.8 L212.9,610.8 L215.5,610.8 L218.2,610.8 L220.9,610.8 L223.6,610.8 L226.3,610.9 L228.9,610.9 L231.5,610.9 L234.0,610.9 L236.5,610.8 L238.9,610.8 L241.2,610.8 L243.4,610.8 L245.5,610.8 L247.4,610.7 L249.3,610.7 L250.9,610.7 L252.5,610.6 L253.8,610.6 L255.0,610.5 L257.6,610.3 L259.8,610.1 L261.6,609.9 L263.3,609.6 L265.0,609.3 L267.5,608.8 L269.8,608.3 L272.0,607.5 L274.1,606.5 L276.2,605.2 L278.0,603.7 L279.7,601.9 L281.1,599.9 L282.4,597.7 L283.3,595.9 L284.1,593.9 L284.7,591.9 L285.4,589.8 L286.0,587.9 L286.5,585.9 L286.9,583.9 L287.4,581.8 L287.9,579.8 L288.4,577.8 L288.9,575.8 L289.4,573.9 L289.9,571.9 L290.4,569.9 L290.9,567.9 L291.4,565.9 L291.9,563.9 L292.4,561.9 L292.9,559.9 L293.4,557.9 L293.9,555.9 L294.4,554.0 L294.9,552.0 L295.4,550.0 L295.9,548.0 L296.4,546.1 L296.9,544.2 L297.3,542.1 L297.8,540.0 L298.2,538.0 L298.5,536.0 L298.9,533.8 L299.2,531.7 L299.5,529.4 L299.9,527.2 L300.2,525.0 L300.5,522.9 L300.8,520.9 L301.1,518.8 L301.3,516.7 L301.6,514.6 L301.9,512.5 L302.2,510.3 L302.5,508.0 L302.8,506.0 L303.0,504.1 L303.3,502.0 L303.6,500.0 L303.8,497.9 L304.1,495.8 L304.4,493.6 L304.7,491.5 L304.9,489.3 L305.2,487.2 L305.5,485.0 L305.8,483.0 L306.0,481.0 L306.3,478.9 L306.6,476.9 L306.8,474.8 L307.1,472.7 L307.4,470.6 L307.6,468.5 L307.9,466.4 L308.2,464.3 L308.5,462.2 L308.7,460.1 L309.0,458.0 L309.3,456.0 L309.5,454.0 L309.7,452.1 L310.0,450.1 L310.2,448.1 L310.5,446.1 L310.7,444.1 L311.0,442.1 L311.2,440.1 L311.5,438.1 L311.7,436.1 L312.0,434.1 L312.2,432.0 L312.5,430.0 L312.8,428.0 L313.0,426.1 L313.3,424.1 L313.6,422.1 L313.9,420.2 L314.2,418.2 L314.4,416.2 L314.7,414.2 L315.0,412.2 L315.3,410.2 L315.6,408.2 L315.8,406.2 L316.1,404.1 L316.4,402.1 L316.6,400.0 L316.8,398.0 L317.0,396.0 L317.2,393.9 L317.4,391.7 L317.6,389.6 L317.8,387.5 L318.0,385.3 L318.2,383.1 L318.3,381.0 L318.5,378.9 L318.7,376.7 L318.8,374.7 L319.0,372.6 L319.2,370.6 L319.3,368.7 L319.5,366.8 L319.7,365.0 L319.9,362.8 L320.2,360.8 L320.4,358.8 L320.6,357.0 L320.8,355.2 L321.0,353.3 L321.3,351.4 L321.5,349.4 L321.8,347.3 L322.0,345.0 L322.2,343.3 L322.3,341.6 L322.5,339.8 L322.7,337.9 L322.9,336.0 L323.1,334.1 L323.2,332.1 L323.4,330.1 L323.6,328.0 L323.8,325.9 L324.0,323.8 L324.2,321.6 L324.4,319.5 L324.6,317.3 L324.8,315.1 L325.0,312.9 L325.2,310.7 L325.4,308.6 L325.6,306.4 L325.9,304.2 L326.1,302.1 L326.3,300.0 L326.5,298.0 L326.7,296.0 L327.0,294.0 L327.2,292.0 L327.4,289.9 L327.7,287.8 L327.9,285.7 L328.1,283.6 L328.4,281.5 L328.6,279.4 L328.9,277.2 L329.1,275.1 L329.4,273.0 L329.6,271.0 L329.9,268.9 L330.1,266.8 L330.4,264.8 L330.6,262.8 L330.9,260.9 L331.1,258.9 L331.4,257.1 L331.6,255.2 L331.8,253.4 L332.1,251.7 L332.3,250.0 L332.6,247.6 L332.9,245.3 L333.2,243.1 L333.5,240.9 L333.8,238.8 L334.1,236.8 L334.4,234.8 L334.7,232.8 L335.0,230.8 L335.4,228.9 L335.7,227.0 L336.0,225.0 L336.4,222.9 L336.7,220.9 L337.1,219.0 L337.5,217.0 L337.9,215.1 L338.3,213.2 L338.7,211.2 L339.1,209.2 L339.4,207.1 L339.8,205.0 L340.1,203.1 L340.4,201.1 L340.6,199.0 L340.9,196.9 L341.1,194.7 L341.4,192.6 L341.6,190.4 L341.9,188.2 L342.1,186.0 L342.4,183.9 L342.6,181.8 L342.9,179.8 L343.2,177.9 L343.5,176.0 L343.9,173.6 L344.4,171.2 L344.9,168.9 L345.4,166.7 L345.9,164.5 L346.4,162.4 L347.0,160.4 L347.5,158.5 L348.2,156.2 L348.9,154.1 L349.7,152.0 L350.4,150.0 L351.2,147.9 L351.9,146.0 L352.6,144.0 L353.3,142.1 L354.1,140.1 L354.8,138.2 L355.5,136.2 L356.2,134.2 L356.9,132.3 L357.6,130.3 L358.3,128.4 L359.0,126.4 L359.7,124.5 L360.5,122.3 L361.3,120.1 L362.1,117.9 L362.9,115.9 L363.9,113.9 L365.1,111.9 L366.4,110.0 L367.8,108.3 L369.2,106.5 L370.5,104.8 L371.9,103.2 L373.2,101.6 L374.5,100.1 L376.0,98.7 L377.5,97.3 L378.8,95.9 L379.9,94.1 L380.9,92.2 L382.0,90.6 L383.9,89.0 L386.2,88.0 L388.5,87.8 L391.1,88.1 L393.6,88.5 L396.4,89.1 L398.9,90.2 L400.6,91.9 L402.2,94.1 L403.9,96.2 L405.4,97.7 L407.1,99.2 L408.7,100.7 L410.4,102.3 L411.9,103.7 L413.4,105.2 L414.9,106.6 L416.4,108.2 L417.9,109.7 L419.4,111.3 L421.0,113.0 L422.5,114.7 L424.0,116.4 L425.3,118.1 L426.6,120.1 L427.6,122.2 L428.7,124.3 L429.9,126.4 L431.1,128.1 L432.5,129.9 L433.9,131.6 L435.2,133.2 L436.4,134.8 L437.6,136.7 L438.7,138.4 L440.0,140.6 L440.8,142.0 L441.8,143.6 L442.8,145.4 L443.9,147.2 L445.0,149.1 L446.1,151.1 L447.3,153.2 L448.4,155.2 L449.5,157.2 L450.6,159.2 L451.6,161.1 L452.6,163.0 L453.6,164.9 L454.6,166.9 L455.5,168.9 L456.5,170.9 L457.5,172.8 L458.4,174.8 L459.4,176.7 L460.3,178.6 L461.2,180.4 L462.2,182.5 L463.2,184.5 L464.2,186.6 L465.1,188.5 L466.1,190.5 L467.1,192.4 L468.1,194.4 L469.2,196.3 L470.3,198.1 L471.4,199.8 L472.6,201.5 L473.8,203.2 L475.0,205.0 L476.3,206.7 L477.5,208.5 L478.7,210.3 L479.8,212.2 L480.8,214.0 L481.8,215.8 L482.8,217.7 L483.7,219.6 L484.7,221.6 L485.7,223.6 L486.6,225.5 L487.5,227.5 L488.5,229.5 L489.4,231.5 L490.4,233.4 L491.4,235.3 L492.3,237.3 L493.3,239.2 L494.3,241.1 L495.2,243.1 L496.2,245.0 L497.1,247.0 L498.1,248.9 L499.1,250.8 L500.0,252.8 L501.0,254.7 L502.0,256.6 L502.9,258.6 L503.9,260.5 L504.8,262.5 L505.8,264.4 L506.7,266.4 L507.7,268.3 L508.7,270.2 L509.6,272.1 L510.6,274.0 L511.6,275.9 L512.6,277.8 L513.7,279.7 L514.7,281.6 L515.8,283.5 L516.9,285.3 L517.9,287.1 L519.0,289.0 L520.1,290.8 L521.1,292.6 L522.2,294.5 L523.3,296.4 L524.4,298.3 L525.5,300.2 L526.6,302.2 L527.7,304.1 L528.8,306.0 L529.9,307.9 L530.9,309.7 L531.9,311.4 L532.8,313.0 L534.0,315.1 L535.0,317.0 L536.0,318.9 L537.0,320.7 L538.0,322.5 L539.0,324.3 L540.0,326.1 L541.0,327.9 L542.0,329.7 L543.2,331.6 L544.4,333.3 L545.7,335.1 L547.1,336.9 L548.5,338.7 L550.0,340.6 L551.4,342.4 L552.7,344.3 L553.9,346.1 L555.1,348.0 L556.2,349.9 L557.3,351.8 L558.4,353.6 L559.5,355.4 L560.7,357.1 L562.0,358.8 L563.4,360.3 L564.7,361.8 L566.1,363.3 L567.4,364.9 L568.7,366.6 L569.7,368.2 L570.8,370.0 L571.7,371.8 L572.7,373.7 L573.6,375.6 L574.6,377.5 L575.6,379.3 L576.6,381.0 L577.9,383.0 L579.2,384.8 L580.6,386.7 L581.9,388.5 L583.3,390.3 L584.6,392.1 L585.9,394.0 L587.2,395.8 L588.5,397.7 L589.8,399.6 L591.2,401.4 L592.5,403.2 L593.8,404.9 L595.1,406.5 L596.4,408.1 L597.8,409.7 L599.1,411.3 L600.5,412.8 L602.1,414.5 L603.7,416.0 L605.3,417.6 L606.9,419.1 L608.5,420.8 L609.9,422.3 L611.2,423.9 L612.6,425.5 L613.9,427.1 L615.2,428.7 L616.4,430.3 L617.9,432.3 L619.2,434.3 L620.5,436.2 L622.0,438.0 L623.7,439.7 L625.6,441.4 L627.5,443.0 L629.2,444.6 L630.8,446.3 L632.3,448.0 L634.0,450.0 L635.2,451.4 L636.5,452.9 L638.0,454.6 L639.5,456.4 L641.0,458.2 L642.5,459.9 L643.8,461.5 L645.0,463.0 L646.3,464.7 L647.5,466.3 L648.6,467.8 L650.0,469.5 L651.1,470.8 L652.4,472.3 L653.8,473.8 L655.2,475.4 L656.6,476.9 L658.1,478.5 L659.6,480.0 L661.0,481.4 L662.5,482.9 L664.1,484.3 L665.6,485.7 L667.2,487.1 L668.7,488.4 L670.3,489.7 L672.0,491.0 L673.7,492.2 L675.4,493.3 L677.1,494.4 L678.8,495.4 L680.7,496.5 L682.6,497.7 L684.6,499.0 L686.0,499.9 L687.5,500.9 L689.0,501.9 L690.6,503.0 L692.2,504.1 L693.9,505.2 L695.5,506.4 L697.2,507.5 L699.0,508.7 L700.7,509.9 L702.5,511.1 L704.2,512.3 L706.0,513.5 L707.8,514.6 L709.5,515.8 L711.2,516.9 L713.0,518.1 L714.7,519.3 L716.6,520.5 L718.4,521.7 L720.3,523.0 L722.2,524.2 L724.1,525.5 L725.9,526.7 L727.8,527.9 L729.6,529.1 L731.3,530.2 L733.1,531.3 L734.7,532.4 L736.3,533.4 L737.9,534.3 L739.3,535.2 L741.3,536.4 L743.2,537.5 L744.9,538.4 L746.6,539.3 L748.3,540.2 L750.0,541.1 L751.9,542.1 L753.7,543.0 L755.6,544.0 L757.6,544.9 L759.6,545.9 L761.6,546.9 L763.7,547.8 L765.7,548.8 L767.8,549.7 L769.8,550.6 L771.8,551.5 L773.8,552.3 L775.7,553.1 L777.7,553.9 L779.7,554.7 L781.7,555.5 L783.7,556.3 L785.7,557.1 L787.7,557.8 L789.7,558.5 L791.6,559.2 L793.6,559.9 L795.5,560.6 L797.5,561.3 L799.5,561.9 L801.5,562.6 L803.5,563.2 L805.6,563.9 L807.6,564.5 L809.6,565.1 L811.8,565.8 L813.9,566.4 L816.1,567.0 L818.3,567.6 L820.4,568.2 L822.5,568.9 L824.5,569.4 L826.5,570.0 L828.3,570.6 L830.7,571.4 L832.9,572.2 L835.0,572.9 L837.0,573.6 L839.1,574.3 L841.3,575.0 L843.3,575.5 L845.2,576.0 L847.1,576.4 L849.1,576.9 L851.1,577.3 L853.3,577.8 L855.6,578.3 L857.3,578.7 L859.1,579.2 L861.0,579.6 L863.0,580.1 L865.0,580.7 L867.1,581.2 L869.2,581.7 L871.3,582.3 L873.4,582.8 L875.5,583.3 L877.6,583.8 L879.7,584.3 L881.8,584.8 L883.8,585.2 L885.9,585.6 L887.9,586.0 L889.9,586.4 L891.9,586.8 L893.9,587.2 L895.9,587.5 L898.0,587.9 L900.0,588.2 L902.0,588.5 L904.0,588.8 L906.1,589.2 L908.2,589.5 L910.3,589.8 L912.3,590.1 L914.3,590.4 L916.4,590.7 L918.5,591.0 L920.5,591.2 L922.6,591.5 L924.7,591.8 L926.8,592.1 L929.0,592.3 L931.1,592.6 L933.2,592.8 L935.3,593.1 L937.4,593.3 L939.5,593.6 L941.6,593.8 L943.7,594.0 L945.8,594.3 L947.9,594.5 L950.1,594.7 L952.2,595.0 L954.4,595.2 L956.5,595.4 L958.7,595.6 L960.8,595.8 L962.9,596.0 L965.0,596.2 L967.0,596.4 L969.0,596.6 L970.9,596.8 L972.8,596.9 L975.1,597.1 L977.6,597.2 L980.2,597.4 L982.8,597.5 L985.2,597.6 L987.5,597.7 L989.5,597.8 L991.1,597.9 L992.3,598.0 L993.0,598.0" fill="none" stroke="#f0f" stroke-width="4.8" stroke-linejoin="round" stroke-linecap="butt"/>
<line x1="342.6" y1="555.4" x2="331.0" y2="559.8" stroke="#f00" stroke-width="4.5" stroke-linecap="round"/><polygon points="308.6,568.4 333.8,567.1 328.2,552.6" fill="#f00"/><line x1="489.6" y1="520.3" x2="478.8" y2="528.6" stroke="#008080" stroke-width="4.5" stroke-linecap="round"/><polygon points="459.8,543.2 483.6,534.7 474.1,522.4" fill="#008080"/><line x1="488.3" y1="391.7" x2="477.3" y2="398.7" stroke="#00f" stroke-width="4.5" stroke-linecap="round"/><polygon points="457.0,411.6 481.4,405.3 473.1,392.2" fill="#00f"/><line x1="653.1" y1="406.3" x2="642.0" y2="413.8" stroke="#f0f" stroke-width="4.5" stroke-linecap="round"/><polygon points="622.1,427.3 646.3,420.3 637.6,407.4" fill="#f0f"/>
<line x1="173" y1="36.0" x2="994.6" y2="36.0" stroke="#1a1a1a" stroke-width="3.3"/><line x1="180.0" y1="36.0" x2="180.0" y2="637.7" stroke="#000" stroke-width="2.7"/><line x1="993.4" y1="34.5" x2="993.4" y2="636.5" stroke="#000" stroke-width="2.4"/><line x1="178.7" y1="636.5" x2="994.6" y2="636.5" stroke="#000" stroke-width="2.4"/><line x1="166.5" y1="611.0" x2="180.0" y2="611.0" stroke="#000" stroke-width="2.5"/><line x1="173.3" y1="558.7" x2="180.0" y2="558.7" stroke="#000" stroke-width="2.5"/><line x1="166.5" y1="506.4" x2="180.0" y2="506.4" stroke="#000" stroke-width="2.5"/><line x1="173.3" y1="454.1" x2="180.0" y2="454.1" stroke="#000" stroke-width="2.5"/><line x1="166.5" y1="401.8" x2="180.0" y2="401.8" stroke="#000" stroke-width="2.5"/><line x1="173.3" y1="349.5" x2="180.0" y2="349.5" stroke="#000" stroke-width="2.5"/><line x1="166.5" y1="297.2" x2="180.0" y2="297.2" stroke="#000" stroke-width="2.5"/><line x1="173.3" y1="244.9" x2="180.0" y2="244.9" stroke="#000" stroke-width="2.5"/><line x1="166.5" y1="192.6" x2="180.0" y2="192.6" stroke="#000" stroke-width="2.5"/><line x1="173.3" y1="140.3" x2="180.0" y2="140.3" stroke="#000" stroke-width="2.5"/><line x1="166.5" y1="88.0" x2="180.0" y2="88.0" stroke="#000" stroke-width="2.5"/><line x1="204.4" y1="636.5" x2="204.4" y2="643" stroke="#000" stroke-width="2.5"/><line x1="250.8" y1="636.5" x2="250.8" y2="643" stroke="#000" stroke-width="2.5"/><line x1="297.2" y1="636.5" x2="297.2" y2="647" stroke="#000" stroke-width="2.5"/><line x1="343.6" y1="636.5" x2="343.6" y2="643" stroke="#000" stroke-width="2.5"/><line x1="390.0" y1="636.5" x2="390.0" y2="643" stroke="#000" stroke-width="2.5"/><line x1="436.5" y1="636.5" x2="436.5" y2="643" stroke="#000" stroke-width="2.5"/><line x1="482.9" y1="636.5" x2="482.9" y2="643" stroke="#000" stroke-width="2.5"/><line x1="529.3" y1="636.5" x2="529.3" y2="647" stroke="#000" stroke-width="2.5"/><line x1="575.7" y1="636.5" x2="575.7" y2="643" stroke="#000" stroke-width="2.5"/><line x1="622.1" y1="636.5" x2="622.1" y2="643" stroke="#000" stroke-width="2.5"/><line x1="668.6" y1="636.5" x2="668.6" y2="643" stroke="#000" stroke-width="2.5"/><line x1="715.0" y1="636.5" x2="715.0" y2="643" stroke="#000" stroke-width="2.5"/><line x1="761.4" y1="636.5" x2="761.4" y2="647" stroke="#000" stroke-width="2.5"/><line x1="807.8" y1="636.5" x2="807.8" y2="643" stroke="#000" stroke-width="2.5"/><line x1="854.2" y1="636.5" x2="854.2" y2="643" stroke="#000" stroke-width="2.5"/><line x1="900.7" y1="636.5" x2="900.7" y2="643" stroke="#000" stroke-width="2.5"/><line x1="947.1" y1="636.5" x2="947.1" y2="643" stroke="#000" stroke-width="2.5"/><line x1="993.5" y1="636.5" x2="993.5" y2="647" stroke="#000" stroke-width="2.5"/>
<text x="0" y="0" text-anchor="middle" font-size="47" font-weight="bold" fill="#000" transform="translate(107.24,623.30) scale(0.9,1.03)">0</text><text x="0" y="0" text-anchor="middle" font-size="47" font-weight="bold" fill="#000" transform="translate(126.84,623.30) scale(0.9,1.03)">.</text><text x="0" y="0" text-anchor="middle" font-size="47" font-weight="bold" fill="#000" transform="translate(146.43,623.30) scale(0.9,1.03)">0</text><text x="0" y="0" text-anchor="middle" font-size="47" font-weight="bold" fill="#000" transform="translate(107.24,518.70) scale(0.9,1.03)">0</text><text x="0" y="0" text-anchor="middle" font-size="47" font-weight="bold" fill="#000" transform="translate(126.84,518.70) scale(0.9,1.03)">.</text><text x="0" y="0" text-anchor="middle" font-size="47" font-weight="bold" fill="#000" transform="translate(146.43,518.70) scale(0.95,1.03)">2</text><text x="0" y="0" text-anchor="middle" font-size="47" font-weight="bold" fill="#000" transform="translate(107.24,414.10) scale(0.9,1.03)">0</text><text x="0" y="0" text-anchor="middle" font-size="47" font-weight="bold" fill="#000" transform="translate(126.84,414.10) scale(0.9,1.03)">.</text><text x="0" y="0" text-anchor="middle" font-size="47" font-weight="bold" fill="#000" transform="translate(146.43,414.10) scale(0.95,1.03)">4</text><text x="0" y="0" text-anchor="middle" font-size="47" font-weight="bold" fill="#000" transform="translate(107.24,309.50) scale(0.9,1.03)">0</text><text x="0" y="0" text-anchor="middle" font-size="47" font-weight="bold" fill="#000" transform="translate(126.84,309.50) scale(0.9,1.03)">.</text><text x="0" y="0" text-anchor="middle" font-size="47" font-weight="bold" fill="#000" transform="translate(146.43,309.50) scale(0.92,1.03)">6</text><text x="0" y="0" text-anchor="middle" font-size="47" font-weight="bold" fill="#000" transform="translate(107.24,204.90) scale(0.9,1.03)">0</text><text x="0" y="0" text-anchor="middle" font-size="47" font-weight="bold" fill="#000" transform="translate(126.84,204.90) scale(0.9,1.03)">.</text><text x="0" y="0" text-anchor="middle" font-size="47" font-weight="bold" fill="#000" transform="translate(146.43,204.90) scale(0.9,1.03)">8</text><polygon points="113.67,100.30 113.67,66.65 109.12,66.65 99.48,76.56 99.48,81.73 108.08,73.75 108.08,100.30" fill="#000"/><text x="0" y="0" text-anchor="middle" font-size="47" font-weight="bold" fill="#000" transform="translate(126.84,100.30) scale(0.9,1.03)">.</text><text x="0" y="0" text-anchor="middle" font-size="47" font-weight="bold" fill="#000" transform="translate(146.43,100.30) scale(0.9,1.03)">0</text><text x="0" y="0" text-anchor="middle" font-size="47" font-weight="bold" fill="#000" transform="translate(294.90,679.00) scale(0.9,1.03)">0</text><text x="0" y="0" text-anchor="middle" font-size="47" font-weight="bold" fill="#000" transform="translate(528.10,679.00) scale(0.95,1.03)">2</text><text x="0" y="0" text-anchor="middle" font-size="47" font-weight="bold" fill="#000" transform="translate(760.30,679.00) scale(0.95,1.03)">4</text><text x="0" y="0" text-anchor="middle" font-size="47" font-weight="bold" fill="#000" transform="translate(993.50,679.00) scale(0.92,1.03)">6</text><text x="0" y="0" transform="translate(576.6,717.2) scale(1,1.04)" text-anchor="middle" font-size="46" font-weight="bold">Time (ms)</text><text transform="translate(65.0,346.5) rotate(-90) scale(1,1.04)" text-anchor="middle" font-size="46" font-weight="bold" letter-spacing="0.7">Intensity (a.u.)</text>
<line x1="504" y1="73.4" x2="573" y2="73.4" stroke="#000" stroke-width="4.5"/><text x="0" y="0" transform="translate(579.3,81.5) scale(1,1.04)" font-size="33" font-weight="bold" letter-spacing="1.5">Instrument Response</text><line x1="504" y1="130.5" x2="573" y2="130.5" stroke="#f00" stroke-width="4.5"/><text x="0" y="0" transform="translate(583.5,137.8) scale(1,1.04)" font-size="33" font-weight="bold" letter-spacing="1.5">Core</text><line x1="673" y1="130.5" x2="743" y2="130.5" stroke="#00f" stroke-width="4.5"/><text x="0" y="0" transform="translate(750,137.8) scale(1,1.04)" font-size="33" font-weight="bold" letter-spacing="1.38">Core/Shell (Y)</text><line x1="504" y1="177.4" x2="573" y2="177.4" stroke="#008080" stroke-width="4.5"/><text x="0" y="0" transform="translate(580.2,187.3) scale(1,1.04)" font-size="33" font-weight="bold" letter-spacing="1.45">Core/Shell (Yb)</text><line x1="504" y1="233.7" x2="573" y2="233.7" stroke="#f0f" stroke-width="4.5"/><text x="0" y="0" transform="translate(580.2,242.2) scale(1,1.04)" font-size="33" font-weight="bold" letter-spacing="1.38">Core/Shell/Shell</text>
</svg>
</body></html>
